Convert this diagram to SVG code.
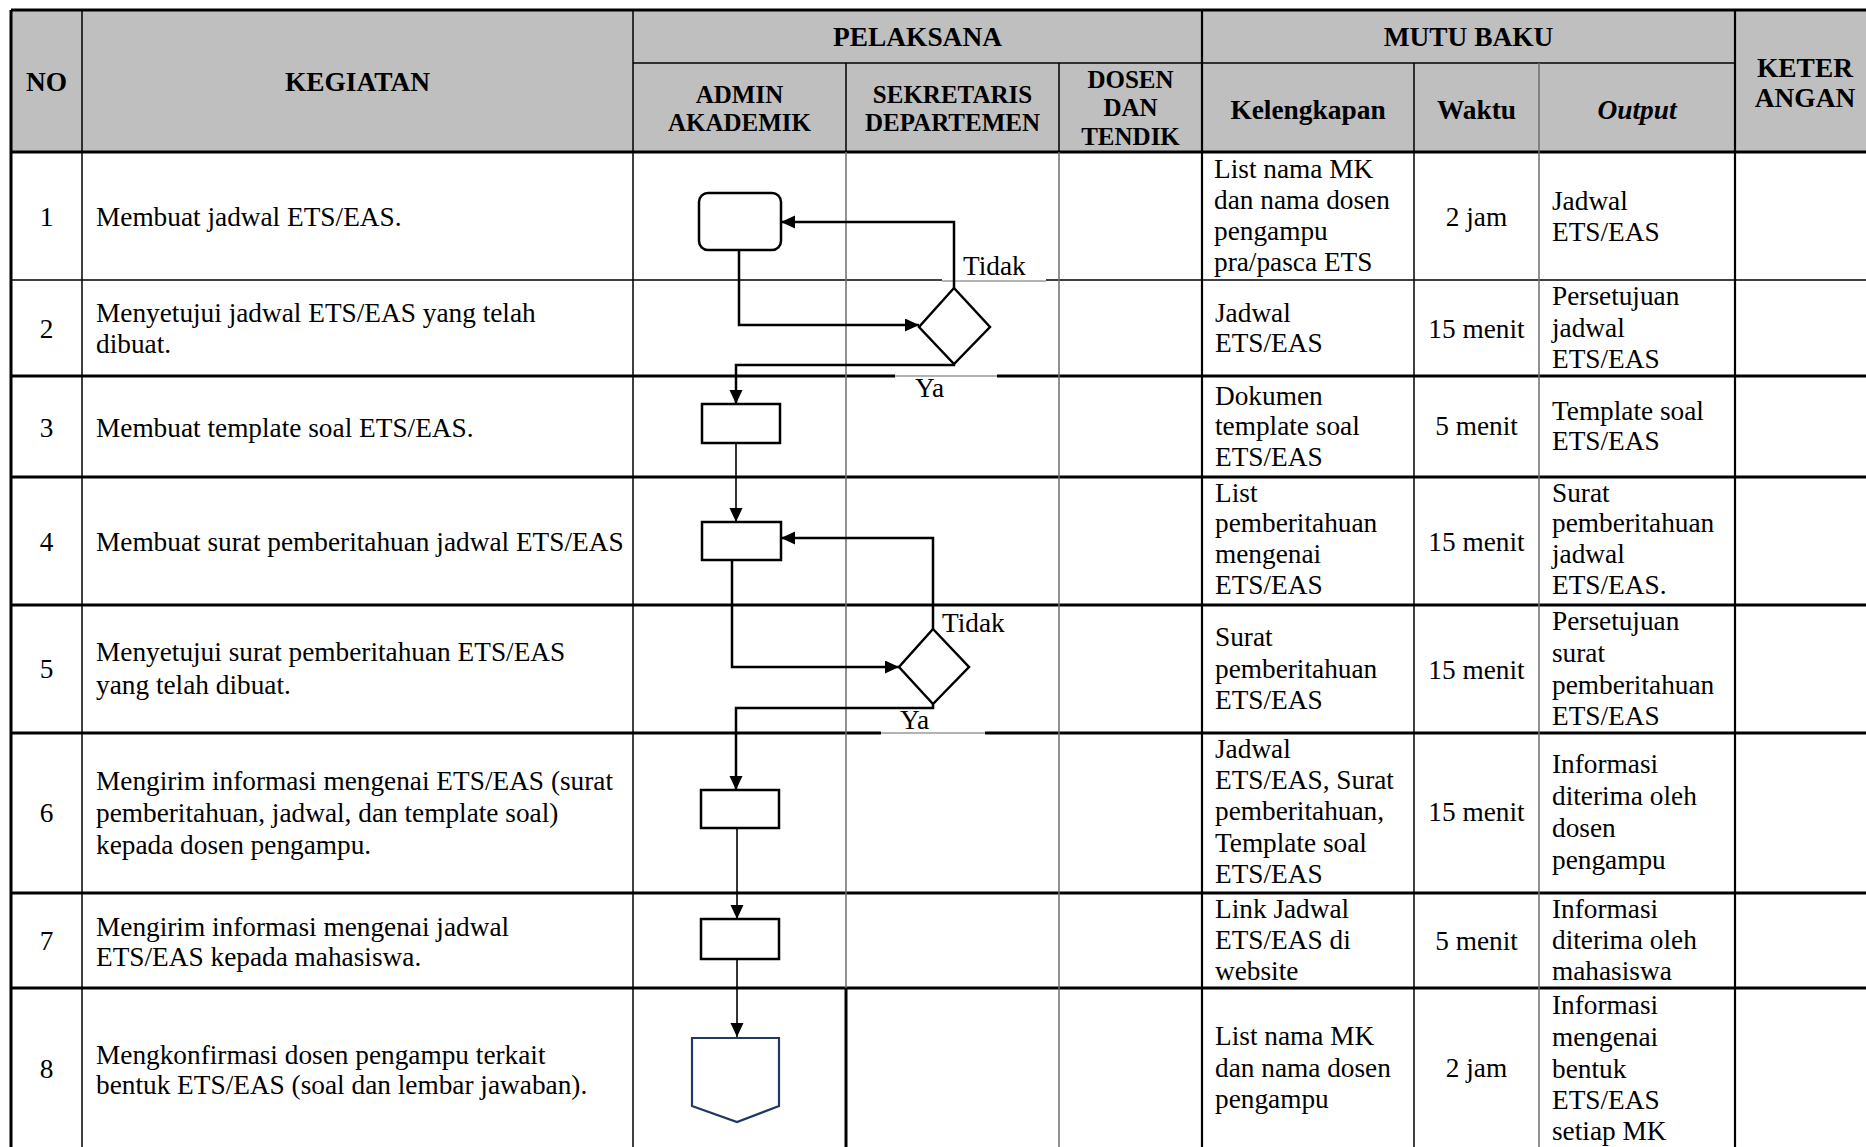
<svg xmlns="http://www.w3.org/2000/svg" width="1866" height="1147" viewBox="0 0 1866 1147">
<style>
text{font-family:"Liberation Serif","Times New Roman",serif;fill:#000}
.b{font-size:27.3px}
.c{text-anchor:middle}
.h{font-size:27.4px;font-weight:bold;text-anchor:middle}
.hs{font-size:25px;font-weight:bold;text-anchor:middle}
.thick{stroke:#000;stroke-width:3;fill:none}
.med{stroke:#000;stroke-width:2.2;fill:none}
.thin{stroke:#000;stroke-width:1.5;fill:none}
.gray{stroke:#6e6e6e;stroke-width:1.5;fill:none}
.lgray{stroke:#9a9a9a;stroke-width:1.5;fill:none}
.shape{fill:#fff;stroke:#000;stroke-width:2.5}
.conn{fill:none;stroke:#000;stroke-width:2.5}
.connt{fill:none;stroke:#000;stroke-width:1.6}
</style>
<defs>
<marker id="ah" markerUnits="userSpaceOnUse" markerWidth="15" markerHeight="14" refX="14" refY="6.5" orient="auto">
<path d="M0,0 L14,6.5 L0,13 Z" fill="#000"/>
</marker>
</defs>
<rect width="1866" height="1147" fill="#fff"/>
<g id="table">
<rect x="11" y="10" width="1864" height="142" fill="#bfbfbf"/>
<line class="thick" x1="11" y1="10" x2="1875" y2="10"/>
<line class="thin" x1="633" y1="63" x2="1735" y2="63"/>
<line class="thick" x1="11" y1="152" x2="1875" y2="152"/>
<line class="thin" x1="11" y1="280" x2="942" y2="280"/>
<line class="lgray" x1="942" y1="281" x2="1046" y2="281"/>
<line class="thin" x1="1046" y1="280" x2="1875" y2="280"/>
<line class="thick" x1="11" y1="376" x2="895" y2="376"/>
<line class="lgray" x1="895" y1="376" x2="997" y2="376"/>
<line class="thick" x1="997" y1="376" x2="1875" y2="376"/>
<line class="thick" x1="11" y1="477" x2="1875" y2="477"/>
<line class="thick" x1="11" y1="605" x2="1875" y2="605"/>
<line class="thick" x1="11" y1="733" x2="881" y2="733"/>
<line class="lgray" x1="881" y1="733" x2="985" y2="733"/>
<line class="thick" x1="985" y1="733" x2="1875" y2="733"/>
<line class="thick" x1="11" y1="893" x2="1875" y2="893"/>
<line class="thick" x1="11" y1="988" x2="1875" y2="988"/>
<line class="thick" x1="11" y1="10" x2="11" y2="1147"/>
<line class="thin" x1="82" y1="10" x2="82" y2="1147"/>
<line class="thin" x1="633" y1="10" x2="633" y2="1147"/>
<line class="thin" x1="846" y1="63" x2="846" y2="152"/>
<line class="gray" x1="846" y1="152" x2="846" y2="988"/>
<line class="thick" x1="846" y1="988" x2="846" y2="1147"/>
<line class="thin" x1="1059" y1="63" x2="1059" y2="152"/>
<line class="gray" x1="1059" y1="152" x2="1059" y2="1147"/>
<line class="med" x1="1202" y1="10" x2="1202" y2="1147"/>
<line class="thin" x1="1414" y1="63" x2="1414" y2="1147"/>
<line class="gray" x1="1539" y1="63" x2="1539" y2="1147"/>
<line class="med" x1="1735" y1="10" x2="1735" y2="1147"/>
</g>
<g id="header">
<text class="h" x="46.5" y="91">NO</text>
<text class="h" x="357.5" y="91">KEGIATAN</text>
<text class="h" x="917.5" y="46">PELAKSANA</text>
<text class="h" x="1468.5" y="46">MUTU BAKU</text>
<text class="hs" x="739.5" y="103">ADMIN</text>
<text class="hs" x="739.5" y="131">AKADEMIK</text>
<text class="hs" x="952.5" y="103">SEKRETARIS</text>
<text class="hs" x="952.5" y="131">DEPARTEMEN</text>
<text class="hs" x="1130.5" y="88">DOSEN</text>
<text class="hs" x="1130.5" y="116">DAN</text>
<text class="hs" x="1130.5" y="145">TENDIK</text>
<text class="h" x="1308" y="119">Kelengkapan</text>
<text class="h" x="1476.5" y="119">Waktu</text>
<text class="h" x="1637" y="119" font-style="italic">Output</text>
<text class="h" x="1805" y="77">KETER</text>
<text class="h" x="1805" y="107">ANGAN</text>
</g>
<g id="col-no">
<text class="b c" x="46.5" y="226">1</text>
<text class="b c" x="46.5" y="338">2</text>
<text class="b c" x="46.5" y="437">3</text>
<text class="b c" x="46.5" y="551">4</text>
<text class="b c" x="46.5" y="678">5</text>
<text class="b c" x="46.5" y="822">6</text>
<text class="b c" x="46.5" y="950">7</text>
<text class="b c" x="46.5" y="1078">8</text>
</g>
<g id="col-kegiatan">
<text class="b" x="96" y="226">Membuat jadwal ETS/EAS.</text>
<text class="b" x="96" y="322">Menyetujui jadwal ETS/EAS yang telah</text>
<text class="b" x="96" y="353">dibuat.</text>
<text class="b" x="96" y="437">Membuat template soal ETS/EAS.</text>
<text class="b" x="96" y="551">Membuat surat pemberitahuan jadwal ETS/EAS</text>
<text class="b" x="96" y="661">Menyetujui surat pemberitahuan ETS/EAS</text>
<text class="b" x="96" y="694">yang telah dibuat.</text>
<text class="b" x="96" y="790">Mengirim informasi mengenai ETS/EAS (surat</text>
<text class="b" x="96" y="822">pemberitahuan, jadwal, dan template soal)</text>
<text class="b" x="96" y="854">kepada dosen pengampu.</text>
<text class="b" x="96" y="936">Mengirim informasi mengenai jadwal</text>
<text class="b" x="96" y="966">ETS/EAS kepada mahasiswa.</text>
<text class="b" x="96" y="1064">Mengkonfirmasi dosen pengampu terkait</text>
<text class="b" x="96" y="1094">bentuk ETS/EAS (soal dan lembar jawaban).</text>
</g>
<g id="col-kelengkapan">
<text class="b" x="1214" y="178">List nama MK</text>
<text class="b" x="1214" y="209">dan nama dosen</text>
<text class="b" x="1214" y="240">pengampu</text>
<text class="b" x="1214" y="271">pra/pasca ETS</text>
<text class="b" x="1215" y="322">Jadwal</text>
<text class="b" x="1215" y="352">ETS/EAS</text>
<text class="b" x="1215" y="405">Dokumen</text>
<text class="b" x="1215" y="435">template soal</text>
<text class="b" x="1215" y="466">ETS/EAS</text>
<text class="b" x="1215" y="502">List</text>
<text class="b" x="1215" y="532">pemberitahuan</text>
<text class="b" x="1215" y="563">mengenai</text>
<text class="b" x="1215" y="594">ETS/EAS</text>
<text class="b" x="1215" y="646">Surat</text>
<text class="b" x="1215" y="678">pemberitahuan</text>
<text class="b" x="1215" y="709">ETS/EAS</text>
<text class="b" x="1215" y="758">Jadwal</text>
<text class="b" x="1215" y="789">ETS/EAS, Surat</text>
<text class="b" x="1215" y="820">pemberitahuan,</text>
<text class="b" x="1215" y="852">Template soal</text>
<text class="b" x="1215" y="883">ETS/EAS</text>
<text class="b" x="1215" y="918">Link Jadwal</text>
<text class="b" x="1215" y="949">ETS/EAS di</text>
<text class="b" x="1215" y="980">website</text>
<text class="b" x="1215" y="1045">List nama MK</text>
<text class="b" x="1215" y="1077">dan nama dosen</text>
<text class="b" x="1215" y="1108">pengampu</text>
</g>
<g id="col-waktu">
<text class="b c" x="1476.5" y="226">2 jam</text>
<text class="b c" x="1476.5" y="338">15 menit</text>
<text class="b c" x="1476.5" y="435">5 menit</text>
<text class="b c" x="1476.5" y="551">15 menit</text>
<text class="b c" x="1476.5" y="679">15 menit</text>
<text class="b c" x="1476.5" y="821">15 menit</text>
<text class="b c" x="1476.5" y="950">5 menit</text>
<text class="b c" x="1476.5" y="1077">2 jam</text>
</g>
<g id="col-output">
<text class="b" x="1552" y="210">Jadwal</text>
<text class="b" x="1552" y="241">ETS/EAS</text>
<text class="b" x="1552" y="305">Persetujuan</text>
<text class="b" x="1552" y="337">jadwal</text>
<text class="b" x="1552" y="368">ETS/EAS</text>
<text class="b" x="1552" y="420">Template soal</text>
<text class="b" x="1552" y="450">ETS/EAS</text>
<text class="b" x="1552" y="502">Surat</text>
<text class="b" x="1552" y="532">pemberitahuan</text>
<text class="b" x="1552" y="563">jadwal</text>
<text class="b" x="1552" y="594">ETS/EAS.</text>
<text class="b" x="1552" y="630">Persetujuan</text>
<text class="b" x="1552" y="662">surat</text>
<text class="b" x="1552" y="694">pemberitahuan</text>
<text class="b" x="1552" y="725">ETS/EAS</text>
<text class="b" x="1552" y="773">Informasi</text>
<text class="b" x="1552" y="805">diterima oleh</text>
<text class="b" x="1552" y="837">dosen</text>
<text class="b" x="1552" y="869">pengampu</text>
<text class="b" x="1552" y="918">Informasi</text>
<text class="b" x="1552" y="949">diterima oleh</text>
<text class="b" x="1552" y="980">mahasiswa</text>
<text class="b" x="1552" y="1014">Informasi</text>
<text class="b" x="1552" y="1046">mengenai</text>
<text class="b" x="1552" y="1078">bentuk</text>
<text class="b" x="1552" y="1109">ETS/EAS</text>
<text class="b" x="1552" y="1140">setiap MK</text>
</g>
<g id="connectors">
<path class="conn" d="M954,288 V222 H781" marker-end="url(#ah)"/>
<path class="conn" d="M739,250 V325 H919" marker-end="url(#ah)"/>
<path class="conn" d="M954,364 V365 H736 V404" marker-end="url(#ah)"/>
<path class="connt" d="M736,443 V522" marker-end="url(#ah)"/>
<path class="conn" d="M933,629 V538 H781" marker-end="url(#ah)"/>
<path class="conn" d="M732,560 V667 H899" marker-end="url(#ah)"/>
<path class="conn" d="M933,704 V708 H736 V790" marker-end="url(#ah)"/>
<path class="connt" d="M737,828 V919" marker-end="url(#ah)"/>
<path class="connt" d="M737,959 V1037" marker-end="url(#ah)"/>
<text class="b" x="963" y="275">Tidak</text>
<text class="b" x="915" y="397">Ya</text>
<text class="b" x="942" y="632">Tidak</text>
<text class="b" x="900" y="729">Ya</text>
</g>
<g id="n1"><rect class="shape" x="699" y="193" width="82" height="57" rx="9"/></g>
<g id="n2"><polygon class="shape" points="954,288 990,327 954,364 919,327"/></g>
<g id="n3"><rect class="shape" x="702" y="404" width="78" height="39"/></g>
<g id="n4"><rect class="shape" x="702" y="522" width="79" height="38"/></g>
<g id="n5"><polygon class="shape" points="933,629 969,667 933,704 899,667"/></g>
<g id="n6"><rect class="shape" x="701" y="790" width="78" height="38"/></g>
<g id="n7"><rect class="shape" x="701" y="919" width="78" height="40"/></g>
<g id="n8"><polygon points="692,1038 779,1038 779,1106 737,1122 692,1106" fill="#fff" stroke="#1f3864" stroke-width="2.2"/></g>
</svg>
